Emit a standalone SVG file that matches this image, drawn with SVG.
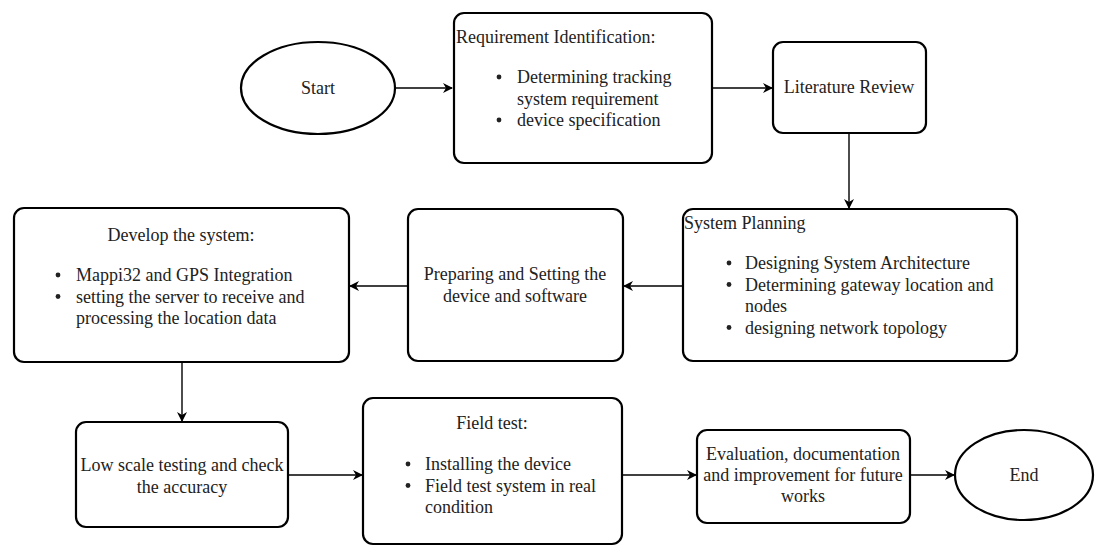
<svg xmlns="http://www.w3.org/2000/svg" width="1100" height="547" viewBox="0 0 1100 547">
<style>
.box{fill:#fff;stroke:#000;stroke-width:2.2}
.t{font-family:'Liberation Serif','Tinos','Times New Roman','DejaVu Serif',serif;font-size:18px;fill:#222}
.c{text-anchor:middle}
.edge{fill:none;stroke:#000;stroke-width:1.4}
.dot{fill:#222}
</style>
<defs>
<marker id="arr" viewBox="0 0 10 10" refX="9" refY="5" markerWidth="10" markerHeight="10" markerUnits="userSpaceOnUse" orient="auto">
<path d="M0,0 L10,5 L0,10 L3,5 z" fill="#000"/>
</marker>
</defs>
<rect width="1100" height="547" fill="#fff"/>
<g id="connectors">
<line class="edge" x1="395" y1="88" x2="452" y2="88" marker-end="url(#arr)"/>
<line class="edge" x1="713" y1="88" x2="772" y2="88" marker-end="url(#arr)"/>
<line class="edge" x1="849" y1="133" x2="849" y2="208" marker-end="url(#arr)"/>
<line class="edge" x1="683" y1="286" x2="624" y2="286" marker-end="url(#arr)"/>
<line class="edge" x1="408" y1="286" x2="350" y2="286" marker-end="url(#arr)"/>
<line class="edge" x1="182" y1="362" x2="182" y2="421" marker-end="url(#arr)"/>
<line class="edge" x1="288" y1="475" x2="362" y2="475" marker-end="url(#arr)"/>
<line class="edge" x1="622" y1="475" x2="696" y2="475" marker-end="url(#arr)"/>
<line class="edge" x1="910" y1="475" x2="954" y2="475" marker-end="url(#arr)"/>
</g>
<g id="start">
<ellipse class="box" cx="318" cy="88" rx="77" ry="46"/>
<text class="t c" x="318" y="94" font-family="Liberation Serif, serif">Start</text>
</g>
<g id="requirement">
<rect class="box" x="454" y="13" width="258" height="150" rx="10"/>
<text class="t" x="456" y="43">Requirement Identification:</text>
<circle class="dot" cx="499" cy="77" r="2.4"/>
<text class="t" x="517" y="83">Determining tracking</text>
<text class="t" x="517" y="104.5">system requirement</text>
<circle class="dot" cx="499" cy="120" r="2.4"/>
<text class="t" x="517" y="126">device specification</text>
</g>
<g id="literature">
<rect class="box" x="773" y="42" width="153" height="91" rx="10"/>
<text class="t c" x="849" y="93">Literature Review</text>
</g>
<g id="planning">
<rect class="box" x="683" y="209" width="334" height="152" rx="10"/>
<text class="t" x="684" y="229">System Planning</text>
<circle class="dot" cx="729" cy="263" r="2.4"/>
<text class="t" x="745" y="269">Designing System Architecture</text>
<circle class="dot" cx="729" cy="284.5" r="2.4"/>
<text class="t" x="745" y="290.5">Determining gateway location and</text>
<text class="t" x="745" y="312">nodes</text>
<circle class="dot" cx="729" cy="327.5" r="2.4"/>
<text class="t" x="745" y="333.5">designing network topology</text>
</g>
<g id="preparing">
<rect class="box" x="408" y="209" width="215" height="152" rx="10"/>
<text class="t c" x="515" y="280">Preparing and Setting the</text>
<text class="t c" x="515" y="302">device and software</text>
</g>
<g id="develop">
<rect class="box" x="14" y="208" width="335" height="154" rx="10"/>
<text class="t c" x="181" y="241">Develop the system:</text>
<circle class="dot" cx="58" cy="275" r="2.4"/>
<text class="t" x="76" y="281">Mappi32 and GPS Integration</text>
<circle class="dot" cx="58" cy="296.5" r="2.4"/>
<text class="t" x="76" y="302.5">setting the server to receive and</text>
<text class="t" x="76" y="324">processing the location data</text>
</g>
<g id="lowscale">
<rect class="box" x="76" y="422" width="212" height="105" rx="10"/>
<text class="t c" x="182" y="471">Low scale testing and check</text>
<text class="t c" x="182" y="493">the accuracy</text>
</g>
<g id="fieldtest">
<rect class="box" x="363" y="398" width="259" height="146" rx="10"/>
<text class="t c" x="492" y="429">Field test:</text>
<circle class="dot" cx="408" cy="464" r="2.4"/>
<text class="t" x="425" y="470">Installing the device</text>
<circle class="dot" cx="408" cy="485.5" r="2.4"/>
<text class="t" x="425" y="491.5">Field test system in real</text>
<text class="t" x="425" y="513">condition</text>
</g>
<g id="evaluation">
<rect class="box" x="697" y="430" width="213" height="93" rx="10"/>
<text class="t c" x="803" y="460">Evaluation, documentation</text>
<text class="t c" x="803" y="481">and improvement for future</text>
<text class="t c" x="803" y="502">works</text>
</g>
<g id="end">
<ellipse class="box" cx="1024" cy="475" rx="69" ry="45"/>
<text class="t c" x="1024" y="481">End</text>
</g>
</svg>
